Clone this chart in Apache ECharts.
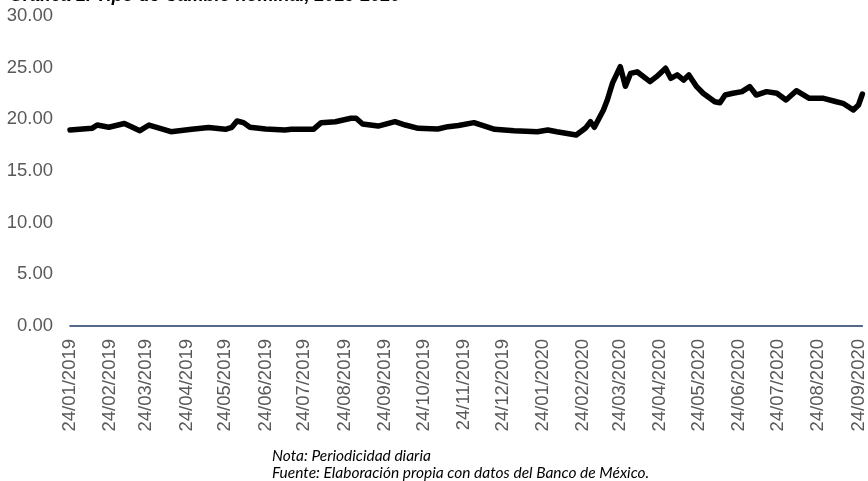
<!DOCTYPE html>
<html><head><meta charset="utf-8">
<script src="https://cdn.jsdelivr.net/npm/echarts@6/dist/echarts.min.js"></script>
<style>html,body{margin:0;padding:0;background:#fff}#c{width:868px;height:481px}</style>
</head><body><div id="c"></div>
<script>
// Axis range (calendar days)
const firstDay = '24/01/2019';
const lastDay = '27/09/2020';

// Series: tipo de cambio (pesos por dólar)
const dates = [
 '24/01/2019','10/02/2019','14/02/2019','23/02/2019','07/03/2019','19/03/2019','26/03/2019','12/04/2019','28/04/2019',
 '11/05/2019','24/05/2019','29/05/2019','02/06/2019','07/06/2019','12/06/2019','24/06/2019','09/07/2019','14/07/2019',
 '31/07/2019','06/08/2019','17/08/2019','29/08/2019','02/09/2019','07/09/2019','19/09/2019','02/10/2019','10/10/2019',
 '20/10/2019','04/11/2019','12/11/2019','20/11/2019','02/12/2019','18/12/2019','02/01/2020','20/01/2020','28/01/2020',
 '04/02/2020','19/02/2020','26/02/2020','01/03/2020','04/03/2020','11/03/2020','14/03/2020','18/03/2020','24/03/2020',
 '28/03/2020','01/04/2020','06/04/2020','16/04/2020','21/04/2020','28/04/2020','02/05/2020','07/05/2020','12/05/2020',
 '16/05/2020','22/05/2020','27/05/2020','05/06/2020','09/06/2020','13/06/2020','19/06/2020','26/06/2020','02/07/2020',
 '07/07/2020','15/07/2020','23/07/2020','30/07/2020','07/08/2020','17/08/2020','28/08/2020','07/09/2020','12/09/2020',
 '20/09/2020','24/09/2020','27/09/2020'
];
const values = [
 18.97,19.13,19.45,19.23,19.60,18.90,19.45,18.80,19.03,
 19.20,19.03,19.23,19.84,19.68,19.23,19.06,18.97,19.03,
 19.03,19.68,19.77,20.10,20.10,19.55,19.35,19.77,19.45,
 19.13,19.06,19.29,19.40,19.68,19.03,18.90,18.80,18.97,
 18.80,18.48,19.13,19.77,19.23,20.90,21.87,23.50,25.10,
 23.20,24.45,24.60,23.65,24.13,24.94,23.97,24.30,23.80,
 24.30,23.16,22.52,21.70,21.60,22.35,22.52,22.68,23.16,
 22.35,22.68,22.52,21.87,22.77,22.03,22.03,21.70,21.55,
 20.90,21.39,22.45
];
const yMin = 0, yMax = 30, yStep = 5;

const titleText = 'Gráfica 1. Tipo de Cambio nominal, 2019-2020';
const noteText = 'Nota: Periodicidad diaria';
const sourceText = 'Fuente: Elaboración propia con datos del Banco de México.';

function parseD(s){const p=s.split('/');return Date.UTC(+p[2],+p[1]-1,+p[0]);}
function fmtD(t){const d=new Date(t);const dd=String(d.getUTCDate()).padStart(2,'0');const mm=String(d.getUTCMonth()+1).padStart(2,'0');return dd+'/'+mm+'/'+d.getUTCFullYear();}
const categories=[];
for(let t=parseD(firstDay);t<=parseD(lastDay);t+=86400000){categories.push(fmtD(t));}

const chart = echarts.init(document.getElementById('c'));
chart.setOption({
  animation:false,
  backgroundColor:'#fff',
  title:{text:titleText,left:4,top:-18,textStyle:{fontFamily:'Liberation Sans',fontSize:18,fontStyle:'italic',fontWeight:'bold',color:'#000'}},
  grid:{left:70,right:1,top:16,bottom:155,containLabel:false},
  xAxis:{
    type:'category',data:categories,boundaryGap:false,
    axisLine:{lineStyle:{color:'#203864',width:1.5}},
    axisTick:{show:false},
    splitLine:{show:false},
    axisLabel:{interval:function(i,v){return v.slice(0,3)==='24/';},rotate:90,margin:13,
      fontFamily:'Liberation Sans',fontSize:18.5,color:'#595959'}
  },
  yAxis:{
    type:'value',min:yMin,max:yMax,interval:yStep,
    axisLine:{show:false},axisTick:{show:false},splitLine:{show:false},
    axisLabel:{formatter:function(v){return v.toFixed(2);},margin:17,fontFamily:'Liberation Sans',fontSize:18.5,color:'#595959'}
  },
  graphic:[
    {type:'text',left:272,top:448,style:{text:noteText,font:'italic 15.5px Lato',fill:'#000'}},
    {type:'text',left:272,top:465,style:{text:sourceText,font:'italic 15.5px Lato',fill:'#000'}}
  ],
  series:[{
    type:'line',data:dates.map((d,i)=>[d,values[i]]),
    showSymbol:false,symbol:'none',
    lineStyle:{color:'#000',width:5.5,join:'round',cap:'round'}
  }]
});
</script></body></html>
